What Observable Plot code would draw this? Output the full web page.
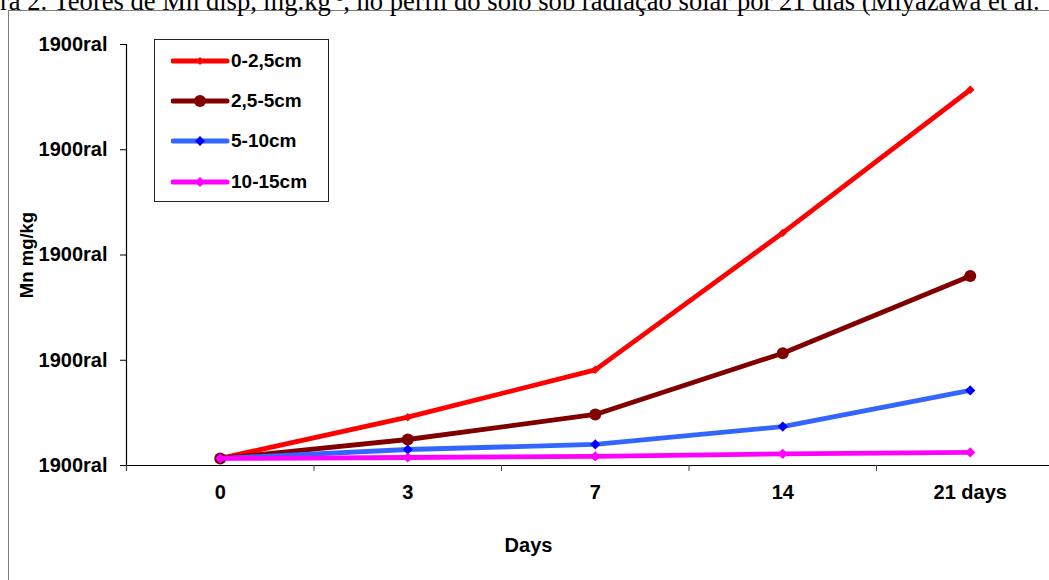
<!DOCTYPE html>
<html>
<head>
<meta charset="utf-8">
<script src="https://cdn.jsdelivr.net/npm/d3@7"></script>
<script src="https://cdn.jsdelivr.net/npm/@observablehq/plot@0.6"></script>
<style>
  html, body { margin: 0; padding: 0; background: #fff; overflow: hidden; width: 1049px; height: 580px; }
  #wrap { position: relative; width: 1049px; height: 580px; overflow: hidden; }
  #title { position: absolute; left: 0; top: -12.5px; white-space: nowrap; font-family: "Liberation Serif", "Times New Roman", serif; font-size: 26.6px; line-height: 26px; color: #000; }
  #frame { position: absolute; left: 8px; top: 10px; width: 1200px; height: 700px; border: 1.5px solid #7f7f7f; box-sizing: border-box; }
  #chart { position: absolute; left: 0; top: 0; }
  #legend { position: absolute; left: 154px; top: 39px; width: 175px; height: 163px; border: 1px solid #222; box-sizing: border-box; background: #fff; font-family: "Liberation Sans", Arial, sans-serif; font-weight: bold; font-size: 19px; }
  .row { position: absolute; left: 0; height: 20px; }
  .row svg { position: absolute; left: 16px; top: 0; }
  .row span { position: absolute; left: 76px; top: -1px; line-height: 22px; white-space: nowrap; }
</style>
</head>
<body>
<div id="wrap">
  <div id="frame"></div>
  <div id="title">ra 2. Teores de Mn disp, mg.kg<sup style="font-size:15px;vertical-align:9px;line-height:0">-1</sup>, no perfil do solo sob radiação solar por 21 dias (Miyazawa et al.</div>
  <div id="chart"></div>
  <div id="legend"></div>
</div>
<script>
// ---- data ----
const days = ["0", "3", "7", "14", "21 days"];
const seriesNames = ["0-2,5cm", "2,5-5cm", "5-10cm", "10-15cm"];
const s0_25 = [0.67, 4.59, 9.09, 22.1, 35.7];
const s25_5 = [0.67, 2.47, 4.85, 10.67, 18.0];
const s5_10 = [0.67, 1.52, 2.0, 3.7, 7.13];
const s10_15 = [0.67, 0.76, 0.86, 1.11, 1.24];
const yTicks = [0, 10, 20, 30, 40];
const yTickLabels = ["1900ral", "1900ral", "1900ral", "1900ral", "1900ral"];
const xLabel = "Days";
const yLabel = "Mn mg/kg";

// ---- styles ----
const lineColors = ["#FF0000", "#800000", "#3366FF", "#FF00FF"];
const markColors = ["#FF0000", "#800000", "#0000FF", "#FF00FF"];
const symbols = ["diamond2", "circle", "diamond2", "diamond2"];
const radii = [3.8, 6, 4.6, 4.6];

const allSeries = [s0_25, s25_5, s5_10, s10_15];
const tables = allSeries.map(vals => days.map((d, i) => ({i, v: vals[i]})));

const W = 1100, H = 580;
const marks = [
  Plot.ruleY([0], {stroke: "#000", strokeWidth: 1.2}),
  Plot.ruleX([-0.5], {stroke: "#000", strokeWidth: 1.2, insetBottom: -6}),
  Plot.axisY({ticks: yTicks, tickFormat: d => yTickLabels[yTicks.indexOf(d)], tickSize: 6, tickPadding: 13, label: null, fontSize: 20, fontWeight: "bold", stroke: "#000"}),
  Plot.axisX({ticks: [-0.5, 0.5, 1.5, 2.5, 3.5, 4.5], tickSize: 6, tickFormat: () => "", label: null, stroke: "#444"}),
  Plot.axisX({ticks: [0, 1, 2, 3, 4], tickSize: 0, tickPadding: 19, tickFormat: d => days[d], label: null, fontSize: 20, fontWeight: "bold"}),
  Plot.text([yLabel], {frameAnchor: "left", rotate: -90, dx: 27 - 126, textAnchor: "middle", fontSize: 18.5, fontWeight: "bold", fill: "#000"}),
  Plot.text([xLabel], {frameAnchor: "bottom", dx: 528 - 594.75, dy: 86, fontSize: 20, fontWeight: "bold", fill: "#000"})
];
tables.forEach((t, k) => {
  marks.push(Plot.line(t, {x: "i", y: "v", stroke: lineColors[k], strokeWidth: 4.8, strokeLinejoin: "round"}));
  marks.push(Plot.dot(t, {x: "i", y: "v", fill: markColors[k], stroke: "none", symbol: symbols[k], r: radii[k]}));
});

const chart = Plot.plot({
  width: W, height: H,
  marginLeft: 126, marginRight: W - 1063.5, marginTop: 44, marginBottom: H - 465,
  x: {type: "linear", domain: [-0.5, 4.5]},
  y: {type: "linear", domain: [0, 40]},
  style: {background: "transparent", fontFamily: "'Liberation Sans', Arial, sans-serif", fontSize: "20px", color: "#000", maxWidth: "none", overflow: "visible"},
  marks
});
document.getElementById("chart").appendChild(chart);

// ---- legend ----
const legend = document.getElementById("legend");
const rowTops = [11, 51, 91, 132];
seriesNames.forEach((name, k) => {
  const row = document.createElement("div");
  row.className = "row";
  row.style.top = rowTops[k] + "px";
  const cy = 10;
  let marker;
  if (symbols[k] === "circle") {
    marker = `<circle cx="29" cy="${cy}" r="6" fill="${markColors[k]}"/>`;
  } else {
    const h = k === 0 ? 4 : 5;
    marker = `<path d="M29,${cy - h}L${29 + h},${cy}L29,${cy + h}L${29 - h},${cy}Z" fill="${markColors[k]}"/>`;
  }
  row.innerHTML = `<svg width="60" height="20"><line x1="2" y1="${cy}" x2="56" y2="${cy}" stroke="${lineColors[k]}" stroke-width="5" stroke-linecap="round"/>${marker}</svg><span>${name}</span>`;
  legend.appendChild(row);
});
</script>
</body>
</html>
